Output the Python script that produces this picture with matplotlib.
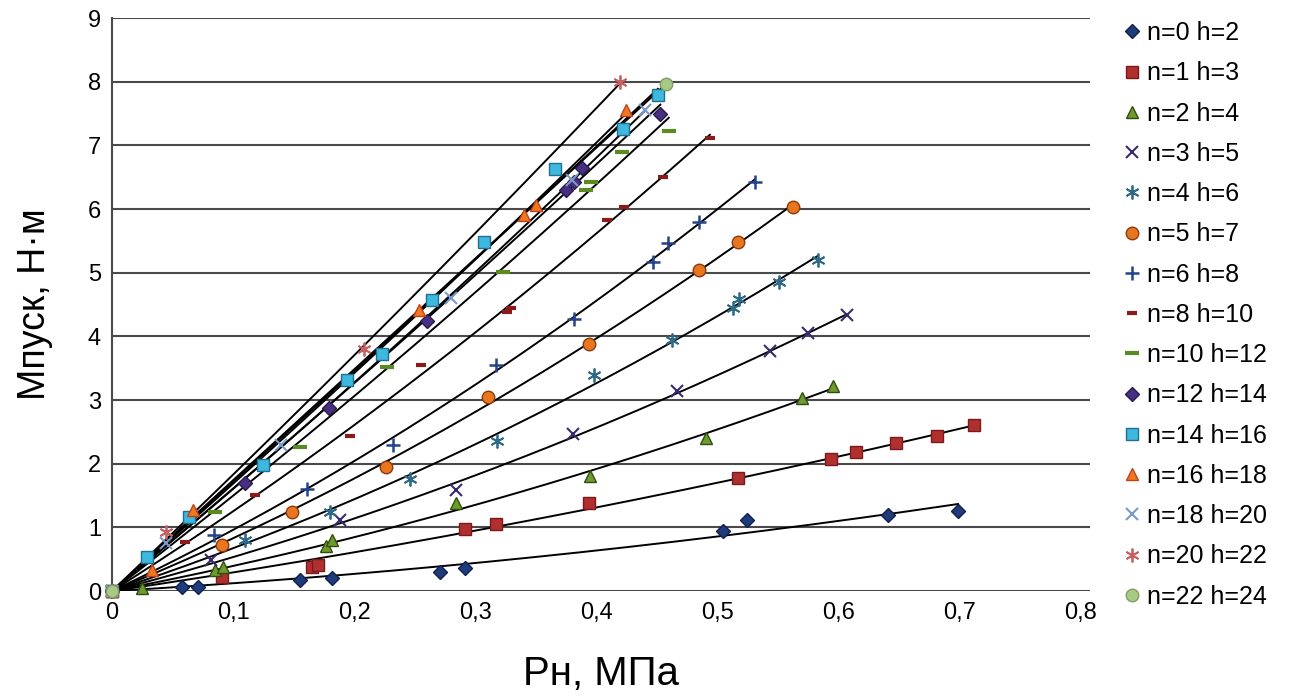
import numpy as np
import matplotlib
matplotlib.use("Agg")
import matplotlib.pyplot as plt

plt.rcParams['font.family'] = ['Liberation Sans', 'DejaVu Sans']

labels = ['n=0 h=2', 'n=1 h=3', 'n=2 h=4', 'n=3 h=5', 'n=4 h=6', 'n=5 h=7',
          'n=6 h=8', 'n=8 h=10', 'n=10 h=12', 'n=12 h=14', 'n=14 h=16',
          'n=16 h=18', 'n=18 h=20', 'n=20 h=22', 'n=22 h=24']

# Pн, MPa
px0 = [0, 0.058, 0.071, 0.155, 0.182, 0.271, 0.292, 0.505, 0.525, 0.641, 0.699]
px1 = [0, 0.091, 0.165, 0.170, 0.292, 0.317, 0.394, 0.517, 0.594, 0.615, 0.648, 0.682, 0.712]
px2 = [0, 0.025, 0.085, 0.092, 0.177, 0.182, 0.284, 0.395, 0.491, 0.570, 0.596]
px3 = [0, 0.082, 0.188, 0.284, 0.381, 0.467, 0.544, 0.575, 0.607]
px4 = [0, 0.110, 0.180, 0.246, 0.318, 0.398, 0.463, 0.513, 0.518, 0.551, 0.583]
px5 = [0, 0.091, 0.149, 0.226, 0.311, 0.394, 0.485, 0.517, 0.563]
px6 = [0, 0.084, 0.161, 0.232, 0.317, 0.382, 0.447, 0.459, 0.485, 0.531]
px8 = [0, 0.060, 0.118, 0.197, 0.255, 0.326, 0.330, 0.409, 0.423, 0.455, 0.494]
px10 = [0, 0.085, 0.155, 0.227, 0.323, 0.392, 0.396, 0.421, 0.460]
px12 = [0, 0.110, 0.179, 0.260, 0.375, 0.382, 0.388, 0.453]
px14 = [0, 0.029, 0.064, 0.125, 0.194, 0.223, 0.264, 0.307, 0.366, 0.422, 0.451]
px16 = [0, 0.033, 0.067, 0.254, 0.340, 0.350, 0.425]
px18 = [0, 0.045, 0.140, 0.280, 0.380, 0.440]
px20 = [0, 0.045, 0.208, 0.420]
px22 = [0, 0.458]

# Мпуск, Н·м
m0 = [0, 0.07, 0.07, 0.17, 0.20, 0.30, 0.36, 0.95, 1.11, 1.19, 1.26]
m1 = [0, 0.22, 0.38, 0.41, 0.97, 1.06, 1.38, 1.77, 2.07, 2.18, 2.32, 2.43, 2.61]
m2 = [0, 0.05, 0.33, 0.38, 0.70, 0.80, 1.38, 1.80, 2.40, 3.04, 3.22]
m3 = [0, 0.48, 1.11, 1.58, 2.46, 3.14, 3.77, 4.05, 4.34]
m4 = [0, 0.80, 1.24, 1.76, 2.36, 3.40, 3.95, 4.45, 4.58, 4.86, 5.20]
m5 = [0, 0.72, 1.24, 1.95, 3.05, 3.88, 5.05, 5.48, 6.03]
m6 = [0, 0.88, 1.60, 2.29, 3.55, 4.28, 5.17, 5.46, 5.80, 6.43]
m8 = [0, 0.77, 1.51, 2.43, 3.55, 4.38, 4.45, 5.83, 6.04, 6.51, 7.12]
m10 = [0, 1.24, 2.26, 3.52, 5.01, 6.30, 6.42, 6.90, 7.23]
m12 = [0, 1.70, 2.87, 4.25, 6.30, 6.43, 6.64, 7.49]
m14 = [0, 0.54, 1.17, 1.98, 3.31, 3.73, 4.57, 5.48, 6.63, 7.26, 7.80]
m16 = [0, 0.33, 1.27, 4.42, 5.90, 6.06, 7.55]
m18 = [0, 0.75, 2.30, 4.60, 6.45, 7.55]
m20 = [0, 0.93, 3.81, 7.99]
m22 = [0, 7.97]

xs_all = [px0, px1, px2, px3, px4, px5, px6, px8, px10, px12, px14, px16, px18, px20, px22]
ys_all = [m0, m1, m2, m3, m4, m5, m6, m8, m10, m12, m14, m16, m18, m20, m22]

styles = [
    dict(marker='D', mfc='#1F3B7A', mec='#0F1F4F', ms=7),
    dict(marker='s', mfc='#B03030', mec='#7A1A1A', ms=9),
    dict(marker='^', mfc='#6E9A2E', mec='#2F4F10', ms=9),
    dict(marker='x', mfc='#3A2A6A', mec='#3A2A6A', ms=9, mew=1.5),
    dict(marker=(6, 2, 0), mfc='#2E6B8A', mec='#2E6B8A', ms=10, mew=1.3),
    dict(marker='o', mfc='#E8761E', mec='#8B3A0F', ms=9),
    dict(marker='+', mfc='#24428A', mec='#24428A', ms=10, mew=1.8),
    dict(marker='_', mfc='#8B1A1A', mec='#8B1A1A', ms=7, mew=3),
    dict(marker='_', mfc='#5A8A22', mec='#5A8A22', ms=10, mew=3),
    dict(marker='D', mfc='#46307F', mec='#2A1850', ms=7),
    dict(marker='s', mfc='#3FB8DF', mec='#1F6F8F', ms=9),
    dict(marker='^', mfc='#F07820', mec='#C0401A', ms=9),
    dict(marker='x', mfc='#7A9AC8', mec='#7A9AC8', ms=9, mew=1.5),
    dict(marker=(6, 2, 0), mfc='#C86060', mec='#C86060', ms=10, mew=1.3),
    dict(marker='o', mfc='#A8C888', mec='#7FA060', ms=9),
]

fig = plt.figure(figsize=(12.89, 6.97), dpi=100)
ax = fig.add_axes([0.0869, 0.152, 0.7587, 0.822])

for x, y, lab, st in zip(xs_all, ys_all, labels, styles):
    x = np.array(x)
    y = np.array(y)
    # polynomial trendline through the origin
    nz = x > 0
    if nz.sum() >= 3:
        A = np.column_stack([x[nz] ** 2, x[nz]])
        coef = np.linalg.lstsq(A, y[nz], rcond=None)[0]
    else:
        coef = np.array([0.0, np.sum(x * y) / np.sum(x * x)])
    xx = np.linspace(0, x.max(), 200)
    ax.plot(xx, coef[0] * xx ** 2 + coef[1] * xx, color='black', lw=1.4, zorder=2)
    ax.plot(x, y, linestyle='none', label=lab, clip_on=False, zorder=3, **st)

ax.set_xlim(0, 0.808)
ax.set_ylim(0, 9)
ax.set_xticks(np.arange(0, 0.81, 0.1))
ax.set_xticklabels(['0', '0,1', '0,2', '0,3', '0,4', '0,5', '0,6', '0,7', '0,8'])
ax.set_yticks(range(10))
ax.yaxis.grid(True, color='#4a4a4a', lw=1.5)
ax.set_axisbelow(True)
for s in ['top', 'right', 'bottom']:
    ax.spines[s].set_visible(False)
ax.spines['left'].set_color('#4a4a4a')
ax.spines['left'].set_linewidth(1.5)
ax.tick_params(length=0, labelsize=17, pad=8)
ax.set_xlabel('Рн, МПа', fontsize=29, labelpad=22)
ax.set_ylabel('Мпуск, Н·м', fontsize=27, labelpad=25)

ax.legend(loc='upper left', bbox_to_anchor=(1.023, 1.012), frameon=False,
          fontsize=18, labelspacing=0.65, handlelength=0.8, handletextpad=0.2,
          borderaxespad=0)

fig.savefig('out.png', dpi=100)
